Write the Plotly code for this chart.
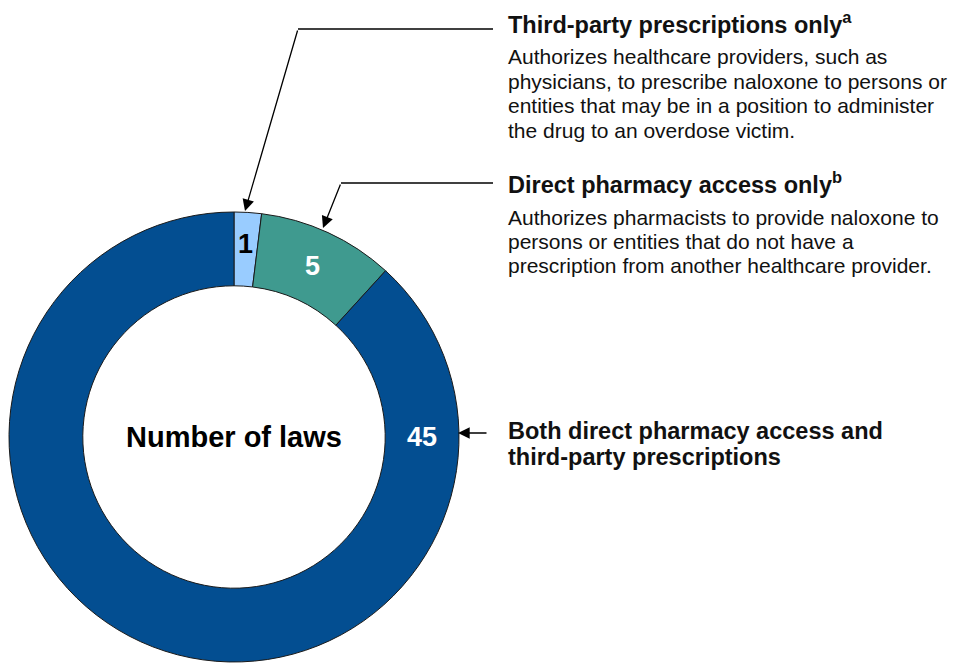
import math
import plotly.graph_objects as go

categories = ["Third-party prescriptions only", "Direct pharmacy access only",
              "Both direct pharmacy access and third-party prescriptions"]
values = [1, 5, 45]
colors = ["#99CCFF", "#3F9A8F", "#034E91"]
label_colors = ["#000000", "#FFFFFF", "#FFFFFF"]
center_label = "Number of laws"
headings = [["Third-party prescriptions only<sup>a</sup>"],
            ["Direct pharmacy access only<sup>b</sup>"],
            ["Both direct pharmacy access and", "third-party prescriptions"]]
descriptions = [
    ["Authorizes healthcare providers, such as",
     "physicians, to prescribe naloxone to persons or",
     "entities that may be in a position to administer",
     "the drug to an overdose victim."],
    ["Authorizes pharmacists to provide naloxone to",
     "persons or entities that do not have a",
     "prescription from another healthcare provider."],
    [],
]

W, H = 956, 664
FONT = "Liberation Sans, Arial, sans-serif"

def px(x):
    return x / W

def py(y):
    return 1 - y / H

cx, cy, R, hole = 234, 437, 225, 0.672

fig = go.Figure(go.Pie(
    labels=categories, values=values, sort=False, direction="clockwise", rotation=0,
    hole=hole, marker=dict(colors=colors, line=dict(color="#1a1a1a", width=1)),
    textinfo="none", hoverinfo="label+value", showlegend=False,
    domain=dict(x=[px(cx - R), px(cx + R)], y=[py(cy + R), py(cy - R)]),
))

annotations = []
total = sum(values)
mid_r = R * (1 + hole) / 2
cum = 0
for i, v in enumerate(values):
    ang = (cum + v / 2) / total * 2 * math.pi
    cum += v
    rr = mid_r
    if i == 2:
        ang = math.pi / 2  # large slice labelled at 3 o'clock, beside its pointer
    elif i == 0:
        rr = mid_r + 5
    lx = cx + rr * math.sin(ang)
    ly = cy - rr * math.cos(ang)
    annotations.append(dict(x=px(lx), y=py(ly), xref="paper", yref="paper",
                            xanchor="center", yanchor="middle",
                            text=f"<b>{v}</b>", showarrow=False,
                            font=dict(family=FONT, size=27, color=label_colors[i])))

annotations.append(dict(x=px(cx), y=py(cy), xref="paper", yref="paper",
                        xanchor="center", yanchor="middle",
                        text=f"<b>{center_label}</b>", showarrow=False,
                        font=dict(family=FONT, size=29, color="#000000")))

# headings and descriptions (one annotation per line for exact line spacing)
TX = 506
head_y = [23, 183, 431]
desc_y = [57, 217, None]
for i in range(3):
    for j, line in enumerate(headings[i]):
        annotations.append(dict(x=px(TX), y=py(head_y[i] + 26 * j), xref="paper", yref="paper",
                                xanchor="left", yanchor="middle", align="left",
                                text=f"<b>{line}</b>", showarrow=False,
                                font=dict(family=FONT, size=23.5, color="#111111")))
    for j, line in enumerate(descriptions[i]):
        annotations.append(dict(x=px(TX), y=py(desc_y[i] + 24.4 * j), xref="paper", yref="paper",
                                xanchor="left", yanchor="middle", align="left",
                                text=line, showarrow=False,
                                font=dict(family=FONT, size=21, color="#111111")))

# leader arrows
arrows = [((298, 29), (245, 211)), ((341, 183), (323, 228)), ((488, 433), (458, 433))]
for (tx, ty), (hx, hy) in arrows:
    annotations.append(dict(x=px(hx), y=py(hy), xref="paper", yref="paper",
                            ax=tx - hx, ay=ty - hy, axref="pixel", ayref="pixel",
                            text="", showarrow=True, arrowhead=2, arrowsize=1.8,
                            arrowwidth=1.3, arrowcolor="#000000", standoff=0))

shapes = [
    dict(type="line", xref="paper", yref="paper", x0=px(298), y0=py(29), x1=px(493), y1=py(29),
         line=dict(color="#000000", width=1.3)),
    dict(type="line", xref="paper", yref="paper", x0=px(341), y0=py(183), x1=px(493), y1=py(183),
         line=dict(color="#000000", width=1.3)),
]

fig.update_layout(width=W, height=H, margin=dict(l=0, r=0, t=0, b=0),
                  paper_bgcolor="white", plot_bgcolor="white",
                  annotations=annotations, shapes=shapes)

fig.write_html("out.html", config={"displayModeBar": False},
               post_script="document.body.style.margin='0';")
